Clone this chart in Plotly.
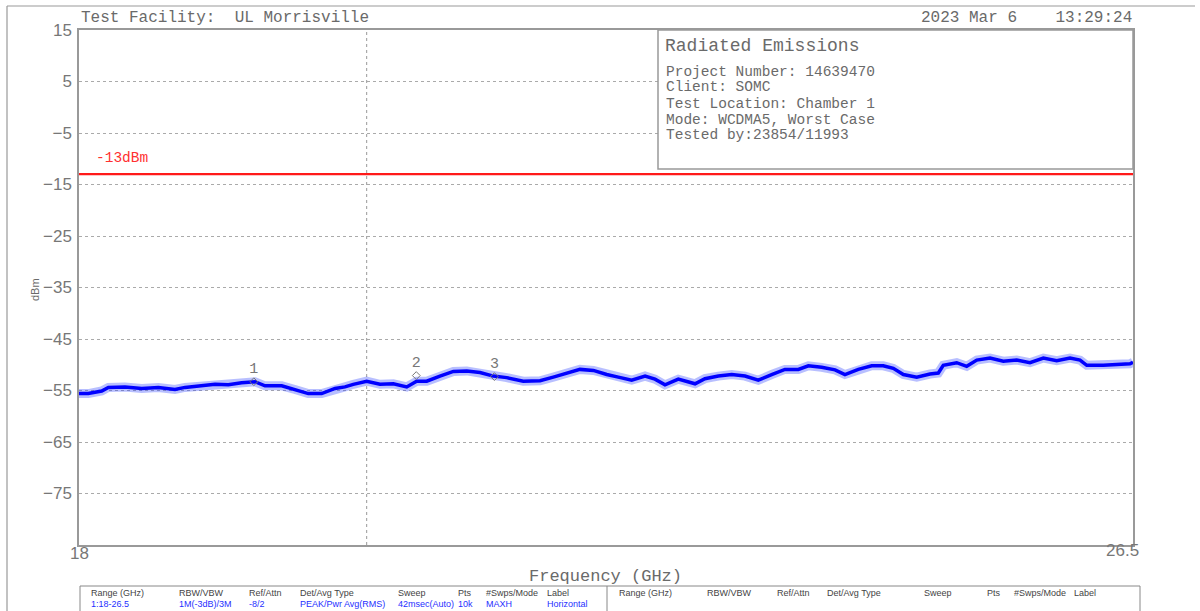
import plotly.graph_objects as go

# ---- data ----
freq_ghz = [18.0, 18.075, 18.183, 18.237, 18.371, 18.506, 18.640, 18.774, 18.855, 18.990,
            19.097, 19.204, 19.312, 19.419, 19.500, 19.635, 19.742, 19.849, 19.957, 20.065,
            20.145,
            20.212, 20.320, 20.427, 20.535, 20.643, 20.723, 20.804, 20.911, 21.019, 21.127,
            21.234, 21.341, 21.449, 21.583, 21.718, 21.825, 21.933, 22.040, 22.148, 22.256,
            22.349, 22.457, 22.565, 22.645, 22.726, 22.833, 22.968, 23.048, 23.156, 23.264,
            23.371, 23.478, 23.586, 23.693, 23.801, 23.882, 23.989, 24.097, 24.177, 24.285,
            24.393,
            24.486, 24.567, 24.648, 24.756, 24.863, 24.930, 24.970, 25.078, 25.159, 25.240,
            25.347, 25.454, 25.562, 25.669, 25.777, 25.885, 25.992, 26.073, 26.127, 26.261,
            26.369, 26.476, 26.5]
level_dbm = [-55.6, -55.6, -55.1, -54.4, -54.3, -54.6, -54.4, -54.8, -54.4, -54.1,
             -53.8, -53.9, -53.5, -53.3, -54.1, -54.1, -54.8, -55.6, -55.6, -54.6,
             -54.3,
             -53.8, -53.2, -53.8, -53.7, -54.3, -53.2, -53.2, -52.2, -51.3, -51.2,
             -51.5, -52.2, -52.5, -53.2, -53.1, -52.4, -51.7, -50.9, -51.1, -51.9,
             -52.4, -53.0, -52.2, -52.8, -53.9, -52.8, -53.7, -52.7, -52.2, -51.9,
             -52.2, -53.0, -51.9, -50.9, -50.9, -50.2, -50.5, -51.0, -51.9, -50.9,
             -50.2,
             -50.2, -50.7, -51.9, -52.4, -51.8, -51.6, -50.1, -49.6, -50.3, -49.1,
             -48.7, -49.3, -49.1, -49.6, -48.7, -49.2, -48.7, -49.1, -50.1, -50.1,
             -49.9, -49.8, -49.5]
assert len(freq_ghz) == len(level_dbm)

marker_labels = ["1", "2", "3"]
marker_freq = [19.41, 20.72, 21.35]
marker_dbm = [-53.3, -52.1, -52.3]

limit_dbm = -13
limit_label = "-13dBm"
vgrid_freq = [20.32]

y_ticks = [15, 5, -5, -15, -25, -35, -45, -55, -65, -75]
x_ticklabels = ["18", "26.5"]

header_left = "Test Facility:  UL Morrisville"
header_right = "2023 Mar 6    13:29:24"
info_title = "Radiated Emissions"
info_lines = ["Project Number: 14639470", "Client: SOMC", "Test Location: Chamber 1",
              "Mode: WCDMA5, Worst Case", "Tested by:23854/11993"]

table_headers = ["Range (GHz)", "RBW/VBW", "Ref/Attn", "Det/Avg Type", "Sweep", "Pts",
                 "#Swps/Mode", "Label"]
table_values = ["1:18-26.5", "1M(-3dB)/3M", "-8/2", "PEAK/Pwr Avg(RMS)", "42msec(Auto)",
                "10k", "MAXH", "Horizontal"]

# ---- layout helpers (pixel -> paper) ----
W, H = 1200, 611
L, R, T, B = 79, 1133, 30, 545
def px(x):
    return (x - L) / (R - L)
def py(y):
    return (B - y) / (B - T)

MONO = "Liberation Mono, DejaVu Sans Mono, monospace"
GREY = "#6a6a6a"

fig = go.Figure()

fig.add_trace(go.Scatter(x=freq_ghz, y=level_dbm, mode="lines",
                         line=dict(color="rgba(40,60,255,0.33)", width=9),
                         hoverinfo="skip", showlegend=False))
fig.add_trace(go.Scatter(x=freq_ghz, y=level_dbm, mode="lines",
                         line=dict(color="#0000ff", width=3.5),
                         showlegend=False))
fig.add_trace(go.Scatter(x=marker_freq, y=marker_dbm, mode="markers+text",
                         text=marker_labels, textposition="top center",
                         textfont=dict(family=MONO, size=15, color="#777"),
                         marker=dict(symbol="diamond-open", size=6, color="#777",
                                     line=dict(width=1)),
                         showlegend=False))

shapes = []
for f in vgrid_freq:
    shapes.append(dict(type="line", xref="x", yref="paper", x0=f, x1=f, y0=0, y1=1,
                       line=dict(color="#999", width=1, dash="dot"), layer="below"))
shapes.append(dict(type="rect", xref="paper", yref="paper", x0=px(658), x1=1,
                   y0=py(169), y1=1, fillcolor="white",
                   line=dict(color="#999", width=1.5), layer="above"))
shapes.append(dict(type="line", xref="paper", yref="y", x0=0, x1=1, y0=limit_dbm,
                   y1=limit_dbm, line=dict(color="#ff1a1a", width=2.2), layer="above"))
shapes.append(dict(type="line", xref="paper", yref="paper", x0=px(7), x1=px(1195),
                   y0=py(6), y1=py(6), line=dict(color="#999", width=1.2)))
shapes.append(dict(type="line", xref="paper", yref="paper", x0=px(7), x1=px(7),
                   y0=py(6), y1=py(620), line=dict(color="#999", width=1.2)))
shapes.append(dict(type="rect", xref="paper", yref="paper", x0=px(80), x1=px(1140),
                   y0=py(620), y1=py(586), line=dict(color="#888", width=1)))
shapes.append(dict(type="line", xref="paper", yref="paper", x0=px(607), x1=px(607),
                   y0=py(620), y1=py(586), line=dict(color="#888", width=1)))

ann = []
def add_text(text, x, y, size, color=GREY, xanchor="left", family=MONO, **kw):
    ann.append(dict(text=text, x=px(x), y=py(y), xref="paper", yref="paper",
                    xanchor=xanchor, yanchor="middle", showarrow=False,
                    font=dict(family=family, size=size, color=color), **kw))

add_text(header_left, 79, 18, 16)
add_text(header_right, 1134, 18, 16, xanchor="right")
add_text(info_title, 663, 45.5, 18)
for i, line in enumerate(info_lines):
    add_text(line, 664, 71.5 + 16 * i, 14.5)
add_text(limit_label, 94, 158, 14.5, color="#ff3030")
add_text("Frequency (GHz)", 605, 576, 17, xanchor="center")
add_text("dBm", 35, 290, 11, xanchor="center", family="Liberation Sans, Arial",
         textangle=-90)
TICKFONT = "Liberation Sans, Arial"
add_text(x_ticklabels[0], 79, 553, 17, color="#777", xanchor="center", family=TICKFONT)
add_text(x_ticklabels[1], 1141, 550, 17, color="#777", xanchor="right", family=TICKFONT)

left_cols = [89, 177, 247, 298, 396, 456, 484, 545]
right_cols = [617, 705, 775, 825, 922, 985, 1012, 1072]
SMALL = "Liberation Sans Narrow, Liberation Sans, Arial"
for cx, h in zip(left_cols, table_headers):
    add_text(h, cx, 593, 9, color="#444", family=SMALL)
for cx, v in zip(left_cols, table_values):
    add_text(v, cx, 604, 9, color="#1f2fff", family=SMALL)
for cx, h in zip(right_cols, table_headers):
    add_text(h, cx, 593, 9, color="#444", family=SMALL)

fig.update_layout(
    width=W, height=H,
    margin=dict(l=L, r=W - R, t=T, b=H - B),
    paper_bgcolor="white", plot_bgcolor="white",
    shapes=shapes, annotations=ann,
    showlegend=False,
    xaxis=dict(range=[18, 26.5], showticklabels=False,
               showgrid=False, zeroline=False, showline=True, mirror=True,
               linecolor="#999", linewidth=1.5, ticks=""),
    yaxis=dict(range=[-85, 15], tickvals=y_ticks, showgrid=True, griddash="dot",
               gridcolor="#aaa", gridwidth=1, zeroline=False, showline=True,
               mirror=True, linecolor="#999", linewidth=1.5, ticks="",
               tickfont=dict(family=TICKFONT, size=17, color="#777"),
               ticklabelstandoff=2),
)

fig.write_html("out.html", config={"displayModeBar": False},
               post_script="document.body.style.margin='0';document.body.style.overflow='hidden';")
